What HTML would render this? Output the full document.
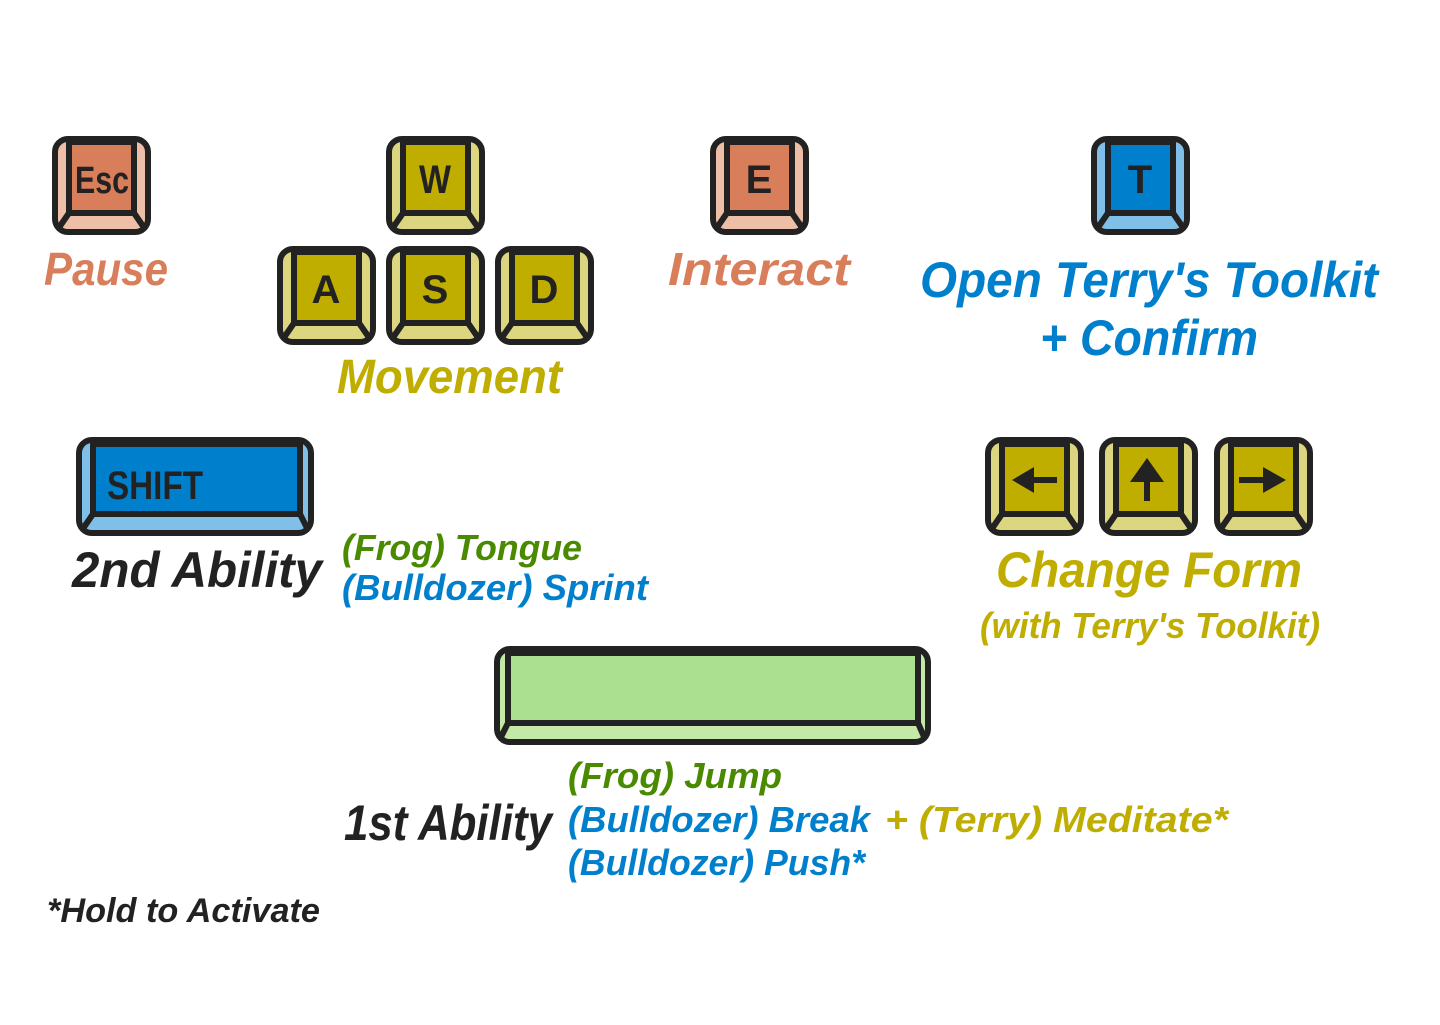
<!DOCTYPE html>
<html><head><meta charset="utf-8"><style>
html,body{margin:0;padding:0;background:#fff;}
svg{display:block;}
.k{font-family:"Liberation Sans Narrow","Liberation Sans",sans-serif;font-weight:bold;fill:#222;}
.h{font-family:"Liberation Sans",sans-serif;font-style:italic;font-weight:bold;}
</style></head><body>
<svg width="1440" height="1025" viewBox="0 0 1440 1025" xmlns="http://www.w3.org/2000/svg">
<g stroke="#222" stroke-width="6" stroke-linejoin="round">
<rect x="55" y="139" width="93" height="93" rx="13" fill="#eebfa8"/>
<rect x="69" y="142" width="65" height="71" fill="#d97e5a"/>
<path d="M69 213 L58 229 M134 213 L145 229" fill="none"/>
<rect x="389" y="139" width="93" height="93" rx="13" fill="#ddd680"/>
<rect x="403" y="142" width="65" height="71" fill="#bfad00"/>
<path d="M403 213 L392 229 M468 213 L479 229" fill="none"/>
<rect x="280" y="249" width="93" height="93" rx="13" fill="#ddd680"/>
<rect x="294" y="252" width="65" height="71" fill="#bfad00"/>
<path d="M294 323 L283 339 M359 323 L370 339" fill="none"/>
<rect x="389" y="249" width="93" height="93" rx="13" fill="#ddd680"/>
<rect x="403" y="252" width="65" height="71" fill="#bfad00"/>
<path d="M403 323 L392 339 M468 323 L479 339" fill="none"/>
<rect x="498" y="249" width="93" height="93" rx="13" fill="#ddd680"/>
<rect x="512" y="252" width="65" height="71" fill="#bfad00"/>
<path d="M512 323 L501 339 M577 323 L588 339" fill="none"/>
<rect x="713" y="139" width="93" height="93" rx="13" fill="#eebfa8"/>
<rect x="727" y="142" width="65" height="71" fill="#d97e5a"/>
<path d="M727 213 L716 229 M792 213 L803 229" fill="none"/>
<rect x="1094" y="139" width="93" height="93" rx="13" fill="#80c0e8"/>
<rect x="1108" y="142" width="65" height="71" fill="#0080cc"/>
<path d="M1108 213 L1097 229 M1173 213 L1184 229" fill="none"/>
<rect x="79" y="440" width="232" height="93" rx="13" fill="#80c0e8"/>
<rect x="93" y="444" width="207" height="70" fill="#0080cc"/>
<path d="M93 514 L82 530 M300 514 L308 530" fill="none"/>
<rect x="988" y="440" width="93" height="93" rx="13" fill="#ddd680"/>
<rect x="1002" y="444" width="65" height="70" fill="#bfad00"/>
<path d="M1002 514 L991 530 M1067 514 L1078 530" fill="none"/>
<rect x="1102" y="440" width="93" height="93" rx="13" fill="#ddd680"/>
<rect x="1116" y="444" width="65" height="70" fill="#bfad00"/>
<path d="M1116 514 L1105 530 M1181 514 L1192 530" fill="none"/>
<rect x="1217" y="440" width="93" height="93" rx="13" fill="#ddd680"/>
<rect x="1231" y="444" width="65" height="70" fill="#bfad00"/>
<path d="M1231 514 L1220 530 M1296 514 L1307 530" fill="none"/>
<rect x="497" y="649" width="431" height="93" rx="13" fill="#c4e8a8"/>
<rect x="508" y="653" width="410" height="70" fill="#aae090"/>
<path d="M508 723 L500 739 M918 723 L925 739" fill="none"/>
</g>
<g fill="#222">
<polygon points="1012,480 1034,467 1034,493"/><rect x="1033" y="477" width="24" height="6"/>
<polygon points="1147,458 1130,482 1164,482"/><rect x="1144" y="481" width="6" height="20"/>
<polygon points="1286,480 1263,467 1263,493"/><rect x="1239" y="477" width="25" height="6"/>
</g>
<text class="k" x="102" y="193" font-size="38" text-anchor="middle" textLength="54" lengthAdjust="spacingAndGlyphs">Esc</text>
<text class="k" x="435" y="193" font-size="40" text-anchor="middle" textLength="32" lengthAdjust="spacingAndGlyphs">W</text>
<text class="k" x="326" y="303" font-size="40" text-anchor="middle">A</text>
<text class="k" x="435" y="303" font-size="40" text-anchor="middle">S</text>
<text class="k" x="544" y="303" font-size="40" text-anchor="middle">D</text>
<text class="k" x="759" y="193" font-size="40" text-anchor="middle">E</text>
<text class="k" x="1140" y="193" font-size="40" text-anchor="middle">T</text>
<text class="k" x="107" y="499" font-size="40" textLength="96" lengthAdjust="spacingAndGlyphs">SHIFT</text>
<g class="h">
<text x="44" y="285" font-size="46" fill="#d97e5a" textLength="124" lengthAdjust="spacingAndGlyphs">Pause</text>
<text x="337" y="393" font-size="48" fill="#bfad00" textLength="225" lengthAdjust="spacingAndGlyphs">Movement</text>
<text x="668" y="285" font-size="46" fill="#d97e5a" textLength="182" lengthAdjust="spacingAndGlyphs">Interact</text>
<text x="920" y="297" font-size="50" fill="#0080cc" textLength="458" lengthAdjust="spacingAndGlyphs">Open Terry's Toolkit</text>
<text x="1040" y="355" font-size="50" fill="#0080cc" textLength="218" lengthAdjust="spacingAndGlyphs">+ Confirm</text>
<text x="72" y="587" font-size="50" fill="#222" textLength="250" lengthAdjust="spacingAndGlyphs">2nd Ability</text>
<text x="342" y="560" font-size="36" fill="#4a8a00" textLength="240" lengthAdjust="spacingAndGlyphs">(Frog) Tongue</text>
<text x="342" y="600" font-size="36" fill="#0080cc" textLength="306" lengthAdjust="spacingAndGlyphs">(Bulldozer) Sprint</text>
<text x="996" y="587" font-size="50" fill="#bfad00" textLength="306" lengthAdjust="spacingAndGlyphs">Change Form</text>
<text x="980" y="638" font-size="36" fill="#bfad00" textLength="340" lengthAdjust="spacingAndGlyphs">(with Terry's Toolkit)</text>
<text x="344" y="840" font-size="50" fill="#222" textLength="208" lengthAdjust="spacingAndGlyphs">1st Ability</text>
<text x="568" y="788" font-size="36" fill="#4a8a00" textLength="214" lengthAdjust="spacingAndGlyphs">(Frog) Jump</text>
<text x="568" y="832" font-size="36" fill="#0080cc" textLength="302" lengthAdjust="spacingAndGlyphs">(Bulldozer) Break</text>
<text x="885" y="832" font-size="36" fill="#bfad00" textLength="343" lengthAdjust="spacingAndGlyphs">+ (Terry) Meditate*</text>
<text x="568" y="875" font-size="36" fill="#0080cc" textLength="297" lengthAdjust="spacingAndGlyphs">(Bulldozer) Push*</text>
<text x="47" y="922" font-size="34" fill="#222" textLength="273" lengthAdjust="spacingAndGlyphs">*Hold to Activate</text>
</g>
</svg>
</body></html>
